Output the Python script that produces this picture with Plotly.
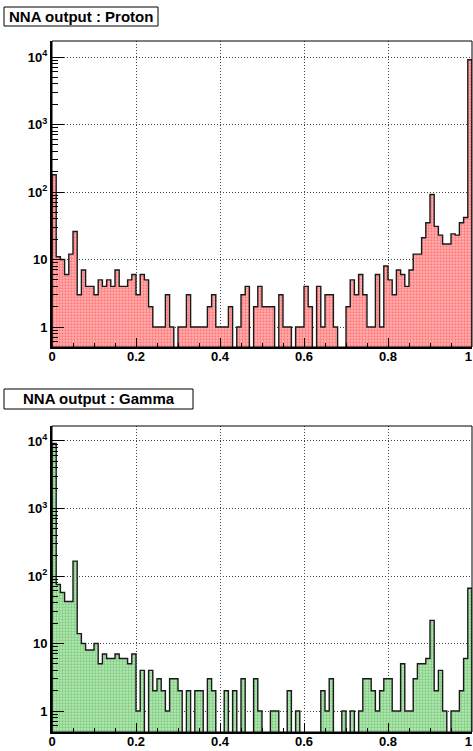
import plotly.graph_objects as go
import numpy as np

# bin edges: 100 bins from 0 to 1
bin_lo = 0.0
bin_hi = 1.0
n_bins = 100

proton = [180, 11, 10, 6, 12, 26, 3, 7, 4, 4,
          3, 5, 4, 5, 4, 7, 4, 4, 5, 6,
          3, 6, 5, 2, 1, 1, 1, 3, 1, 0,
          1, 1, 3, 1, 1, 1, 1, 2, 3, 1,
          1, 1, 2, 0, 1, 3, 4, 0, 2, 4,
          2, 2, 2, 0, 3, 1, 1, 0, 1, 1,
          4, 2, 0, 4, 1, 3, 3, 1, 0, 0,
          2, 5, 3, 6, 3, 1, 1, 6, 1, 8,
          5, 3, 7, 6, 4, 7, 12, 12, 21, 35,
          92, 31, 23, 17, 17, 24, 23, 35, 42, 9100]

gamma = [9200, 75, 57, 42, 42, 166, 14, 10, 8, 8,
         10, 5, 7, 6, 6, 7, 6, 6, 5, 7,
         1, 4, 0, 4, 2, 3, 2, 1, 3, 3,
         2, 0, 2, 0, 2, 2, 0, 3, 2, 0,
         0, 2, 0, 2, 0, 3, 0, 0, 3, 1,
         0, 0, 1, 1, 0, 0, 2, 0, 1, 0,
         0, 0, 0, 0, 2, 1, 3, 0, 0, 1,
         0, 1, 0, 1, 3, 3, 2, 1, 2, 3,
         3, 1, 1, 5, 1, 1, 3, 5, 5, 6,
         22, 2, 4, 1, 0, 1, 1, 2, 6, 66]

titles = ["NNA output : Proton", "NNA output : Gamma"]
x_tick_vals = [0, 0.2, 0.4, 0.6, 0.8, 1]
x_tick_text = ["0", "0.2", "0.4", "0.6", "0.8", "1\u00a0\u00a0"]
y_tick_vals = [1, 10, 100, 1000, 10000]
y_tick_text = ["1", "10", "10<sup>2</sup>", "10<sup>3</sup>", "10<sup>4</sup>"]

W, H = 473, 751
width = (bin_hi - bin_lo) / n_bins
edges = np.linspace(bin_lo, bin_hi, n_bins + 1)
centers = (edges[:-1] + edges[1:]) / 2

FONT = "Liberation Sans, Arial, sans-serif"
fig = go.Figure()

panels = [
    dict(vals=proton, fg="#ff3a3a", bg="#ffb4b4", px=(41, 347), rng=(-0.296, 4.237), box=(4, 7, 154, 19)),
    dict(vals=gamma, fg="#3cb33c", bg="#b8e6b8", px=(426, 732), rng=(-0.311, 4.222), box=(4, 389, 189, 20)),
]

minor_vals = [m * 10 ** k for k in range(-1, 5) for m in range(2, 10)]

for i, p in enumerate(panels):
    xa = "x" if i == 0 else "x2"
    ya = "y" if i == 0 else "y2"
    vals = np.array(p["vals"], dtype=float)
    fig.add_trace(go.Bar(
        x=centers, y=vals, width=width, xaxis=xa, yaxis=ya,
        marker=dict(color=p["bg"], line=dict(width=0),
                    pattern=dict(shape=".", fgcolor=p["fg"], bgcolor=p["bg"], size=3, solidity=0.45)),
        showlegend=False, hoverinfo="skip"))
    floor = 10 ** (p["rng"][0] - 0.5)
    ys = np.maximum(vals, floor)
    xs = list(edges[:-1]) + [edges[-1]]
    yl = list(ys) + [ys[-1]]
    xs = [edges[0]] + xs + [edges[-1]]
    yl = [floor] + yl + [floor]
    fig.add_trace(go.Scatter(
        x=xs, y=yl, mode="lines", line=dict(color="#1a1a1a", width=1.4, shape="hv"),
        xaxis=xa, yaxis=ya, showlegend=False, hoverinfo="skip"))

    top, bot = p["px"]
    ydom = [1 - bot / H, 1 - top / H]
    xdom = [52 / W, 472 / W]
    axx = dict(domain=xdom, range=[bin_lo, bin_hi], tickmode="array", tickvals=x_tick_vals,
               ticktext=x_tick_text, ticks="inside", ticklen=9, tickwidth=1, tickcolor="black",
               showgrid=True, gridcolor="#444", griddash="1px,2px", gridwidth=1,
               showline=True, linecolor="black", linewidth=2, mirror=False,
               zeroline=False, automargin=False, anchor=ya,
               ticklabeloverflow="allow", ticklabelstandoff=-4,
               tickfont=dict(family=FONT, size=13, color="black", weight="bold"),
               minor=dict(tickmode="array", tickvals=[k * 0.05 for k in range(21)],
                          ticks="inside", ticklen=4, tickcolor="black", showgrid=False))
    axy = dict(domain=ydom, type="log", range=list(p["rng"]), tickmode="array",
               tickvals=y_tick_vals, ticktext=y_tick_text, ticks="inside", ticklen=12,
               tickwidth=1, tickcolor="black",
               showgrid=True, gridcolor="#444", griddash="1px,2px", gridwidth=1,
               showline=True, linecolor="black", linewidth=2, mirror=False,
               zeroline=False, automargin=False, anchor=xa,
               ticklabeloverflow="allow",
               tickfont=dict(family=FONT, size=13, color="black", weight="bold"),
               minor=dict(tickmode="array", tickvals=minor_vals, ticks="inside",
                          ticklen=6, tickcolor="black", showgrid=False))
    if i == 0:
        fig.update_layout(xaxis=axx, yaxis=axy)
    else:
        fig.update_layout(xaxis2=axx, yaxis2=axy)

    # frame
    fig.add_shape(type="rect", xref="paper", yref="paper",
                  x0=xdom[0], x1=xdom[1], y0=ydom[0], y1=ydom[1],
                  line=dict(color="black", width=1), layer="above")
    # title box
    bx, by, bw, bh = p["box"]
    fig.add_shape(type="rect", xref="paper", yref="paper",
                  x0=bx / W, x1=(bx + bw) / W, y0=1 - (by + bh) / H, y1=1 - by / H,
                  line=dict(color="black", width=1), fillcolor="white", layer="above")
    fig.add_annotation(x=(bx + bw / 2) / W, y=1 - (by + bh / 2) / H, xref="paper", yref="paper",
                       text=titles[i], showarrow=False, xanchor="center", yanchor="middle",
                       font=dict(family=FONT, size=15, color="black", weight="bold"))

fig.update_layout(width=W, height=H, margin=dict(l=0, r=0, t=0, b=0),
                  paper_bgcolor="white", plot_bgcolor="white", bargap=0, barmode="overlay")

fig.write_html("out.html", config={"responsive": False, "displayModeBar": False},
               post_script="document.body.style.margin='0';document.body.style.overflow='hidden';")
